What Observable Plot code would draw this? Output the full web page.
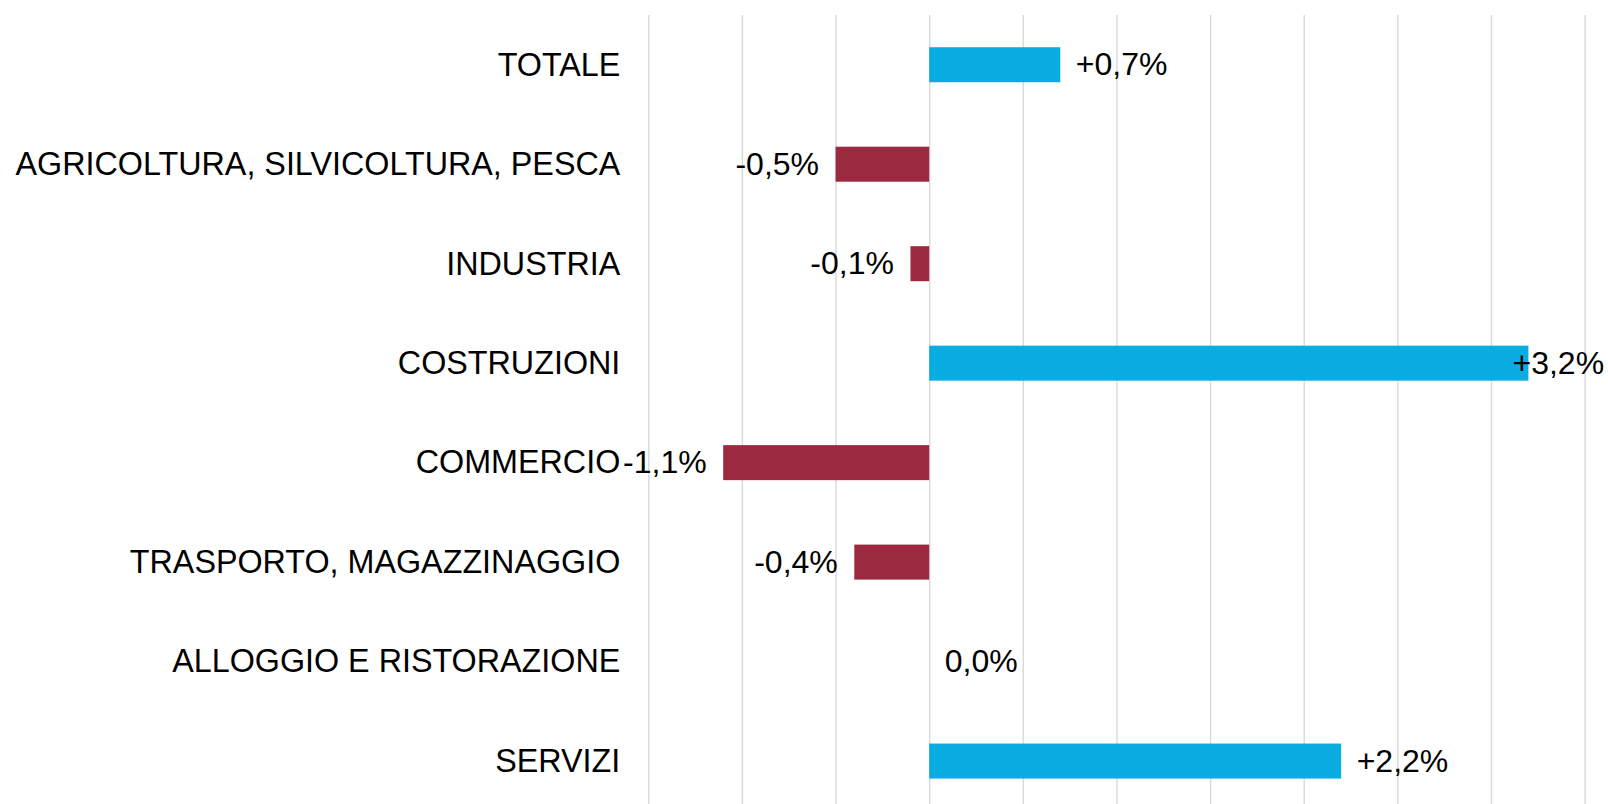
<!DOCTYPE html>
<html>
<head>
<meta charset="utf-8">
<script src="https://cdn.jsdelivr.net/npm/d3@7"></script>
<script src="https://cdn.jsdelivr.net/npm/@observablehq/plot@0.6"></script>
<style>
  html, body { margin: 0; padding: 0; background: #ffffff; }
  #chart { width: 1608px; height: 804px; overflow: hidden; }
</style>
</head>
<body>
<div id="chart"></div>
<script>
const categories = [
  "TOTALE",
  "AGRICOLTURA, SILVICOLTURA, PESCA",
  "INDUSTRIA",
  "COSTRUZIONI",
  "COMMERCIO",
  "TRASPORTO, MAGAZZINAGGIO",
  "ALLOGGIO E RISTORAZIONE",
  "SERVIZI"
];
const values = [0.7, -0.5, -0.1, 3.2, -1.1, -0.4, 0.0, 2.2];
const gridTicks = [-1.5, -1, -0.5, 0, 0.5, 1, 1.5, 2, 2.5, 3, 3.5];

const BLUE = "#09ade1";
const RED = "#9b2a41";

const data = categories.map((c, i) => ({cat: c, value: values[i]}));
const fmt = v => (v > 0 ? "+" : "") + v.toFixed(1).replace(".", ",") + "%";
const xMax = 3.5;
const overflow = d => d.value >= 3;

const chart = Plot.plot({
  width: 1608,
  height: 804,
  marginLeft: 648.3,
  marginRight: 23.4,
  marginTop: 15,
  marginBottom: 0,
  style: {fontFamily: "'Liberation Sans', Arial, sans-serif", fontSize: "32px", color: "#000", background: "#fff"},
  x: {domain: [-1.5, xMax], axis: null},
  y: {domain: categories, range: [15, 810.8], paddingInner: 0.648, paddingOuter: 0.324, round: false, label: null},
  color: {domain: ["pos", "neg"], range: [BLUE, RED]},
  marks: [
    Plot.ruleX(gridTicks, {stroke: "#d9d9d9", strokeWidth: 1.4}),
    Plot.barX(data, {x: "value", y: "cat", fill: d => d.value >= 0 ? "pos" : "neg"}),
    Plot.axisY({tickSize: 0, tickPadding: 28.5, label: null, fontSize: 32.3, fill: "#000"}),
    Plot.text(data.filter(d => d.value >= 0 && !overflow(d)), {x: "value", y: "cat", text: d => fmt(d.value), textAnchor: "start", dx: 15, fontSize: 32, fill: "#000"}),
    Plot.text(data.filter(d => d.value < 0), {x: "value", y: "cat", text: d => fmt(d.value), textAnchor: "end", dx: -17, fontSize: 32, fill: "#000"}),
    Plot.text(data.filter(overflow), {y: "cat", frameAnchor: "right", text: d => fmt(d.value), textAnchor: "end", dx: 19, fontSize: 32, fill: "#000"})
  ]
});
document.getElementById("chart").appendChild(chart);
</script>
</body>
</html>
